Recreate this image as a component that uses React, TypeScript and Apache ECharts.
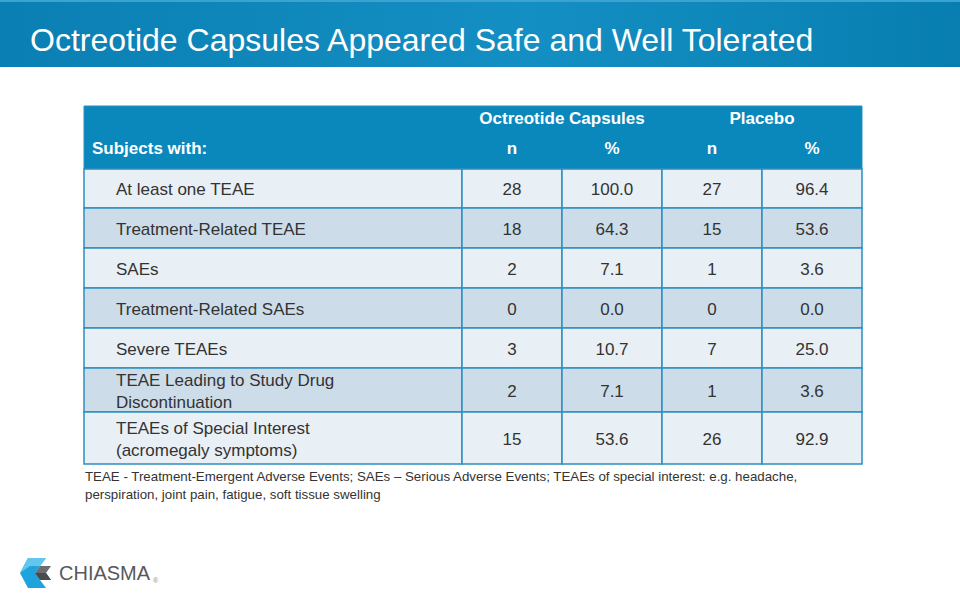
import React, { useEffect, useRef } from "react";
import * as echarts from "echarts";

const titleText = "Octreotide Capsules Appeared Safe and Well Tolerated";
const groupHeaders = ["Octreotide Capsules", "Placebo"];
const columnHeaders = ["Subjects with:", "n", "%", "n", "%"];
const categories = [
  "At least one TEAE",
  "Treatment-Related TEAE",
  "SAEs",
  "Treatment-Related SAEs",
  "Severe TEAEs",
  "TEAE Leading to Study Drug\nDiscontinuation",
  "TEAEs of Special Interest\n(acromegaly symptoms)",
];
const octreotideN = [28, 18, 2, 0, 3, 2, 15];
const octreotidePct = [100.0, 64.3, 7.1, 0.0, 10.7, 7.1, 53.6];
const placeboN = [27, 15, 1, 0, 7, 1, 26];
const placeboPct = [96.4, 53.6, 3.6, 0.0, 25.0, 3.6, 92.9];
const footnote =
  "TEAE - Treatment-Emergent Adverse Events; SAEs \u2013 Serious Adverse Events; TEAEs of special interest: e.g. headache,\nperspiration, joint pain, fatigue, soft tissue swelling";

// layout (table units = px inside grid)
const COL_EDGES = [0, 378, 478, 578, 678, 778];
const HEADER_H = 63;
const ROW_HEIGHTS = [39, 40, 40, 40, 40, 44, 52];
const ROW_EDGES = ROW_HEIGHTS.reduce(
  (acc, h) => {
    acc.push(acc[acc.length - 1] + h);
    return acc;
  },
  [HEADER_H]
);
const TABLE_H = ROW_EDGES[ROW_EDGES.length - 1];

const FONT = "'Liberation Sans', Arial, sans-serif";
const HEAD_BG = "#0a88bc";
const BORDER = "#2c8fc0";
const ROW_LIGHT = "#e8eff5";
const ROW_DARK = "#ccdce8";
const TEXT = "#333333";

export default function App() {
  const ref = useRef<HTMLDivElement>(null);
  useEffect(() => {
    if (!ref.current) return;
    const chart = echarts.init(ref.current, undefined, { renderer: "svg" });

    const renderHeader = (params: any, api: any) => {
      const [x0, y0] = api.coord([COL_EDGES[0], 0]);
      const [x1, y1] = api.coord([COL_EDGES[5], HEADER_H]);
      const children: any[] = [
        {
          type: "rect",
          shape: { x: x0, y: y0, width: x1 - x0, height: y1 - y0 },
          style: { fill: HEAD_BG, stroke: BORDER, lineWidth: 1 },
        },
      ];
      const yTop = api.coord([0, 12])[1];
      const yBot = api.coord([0, 42])[1];
      groupHeaders.forEach((g, gi) => {
        const cx = api.coord([COL_EDGES[1 + gi * 2 + 1], 0])[0];
        children.push({
          type: "text",
          style: {
            text: g,
            x: cx,
            y: yTop,
            align: "center",
            verticalAlign: "middle",
            fill: "#ffffff",
            fontFamily: FONT,
            fontSize: 17,
            fontWeight: "bold",
          },
        });
      });
      columnHeaders.forEach((h, ci) => {
        const xa = api.coord([COL_EDGES[ci], 0])[0];
        const xb = api.coord([COL_EDGES[ci + 1], 0])[0];
        children.push({
          type: "text",
          style: {
            text: h,
            x: ci === 0 ? xa + 8 : (xa + xb) / 2,
            y: yBot,
            align: ci === 0 ? "left" : "center",
            verticalAlign: "middle",
            fill: "#ffffff",
            fontFamily: FONT,
            fontSize: 17,
            fontWeight: "bold",
          },
        });
      });
      return { type: "group", children };
    };

    const renderRow = (params: any, api: any) => {
      const i = api.value(0);
      const yA = api.coord([0, ROW_EDGES[i]])[1];
      const yB = api.coord([0, ROW_EDGES[i + 1]])[1];
      const cy = (yA + yB) / 2;
      const fill = i % 2 === 0 ? ROW_LIGHT : ROW_DARK;
      const values = [
        categories[i],
        String(octreotideN[i]),
        octreotidePct[i].toFixed(1),
        String(placeboN[i]),
        placeboPct[i].toFixed(1),
      ];
      const children: any[] = [];
      values.forEach((v, ci) => {
        const xa = api.coord([COL_EDGES[ci], 0])[0];
        const xb = api.coord([COL_EDGES[ci + 1], 0])[0];
        children.push({
          type: "rect",
          shape: { x: xa, y: yA, width: xb - xa, height: yB - yA },
          style: { fill, stroke: BORDER, lineWidth: 1.5 },
        });
        children.push({
          type: "text",
          style: {
            text: v,
            x: ci === 0 ? xa + 32 : (xa + xb) / 2,
            y: cy + 1,
            align: ci === 0 ? "left" : "center",
            verticalAlign: "middle",
            fill: TEXT,
            fontFamily: FONT,
            fontSize: 17,
            lineHeight: 22,
          },
        });
      });
      return { type: "group", children };
    };

    chart.setOption({
      animation: false,
      backgroundColor: "#ffffff",
      grid: { left: 84, top: 106, width: 778, height: TABLE_H },
      xAxis: { type: "value", min: 0, max: COL_EDGES[5], show: false },
      yAxis: { type: "value", min: 0, max: TABLE_H, inverse: true, show: false },
      series: [
        {
          type: "custom",
          renderItem: renderHeader,
          data: [[0, 0]],
          clip: false,
          silent: true,
        },
        {
          type: "custom",
          renderItem: renderRow,
          data: categories.map((_, i) => [i, i]),
          clip: false,
          silent: true,
        },
      ],
      graphic: [
        {
          type: "rect",
          shape: { x: 0, y: 0, width: 960, height: 67 },
          style: {
            fill: new echarts.graphic.LinearGradient(0, 0, 1, 0, [
              { offset: 0, color: "#0a7fb3" },
              { offset: 0.55, color: "#148fc3" },
              { offset: 1, color: "#087eb0" },
            ]),
          },
        },
        {
          type: "rect",
          shape: { x: 0, y: 0, width: 960, height: 2 },
          style: { fill: "#3aa3d1" },
        },
        {
          type: "text",
          x: 30,
          y: 40,
          style: {
            text: titleText,
            fill: "#ffffff",
            fontFamily: FONT,
            fontSize: 32,
            verticalAlign: "middle",
          },
        },
        {
          type: "text",
          x: 85,
          y: 467,
          style: {
            text: footnote,
            fill: TEXT,
            fontFamily: FONT,
            fontSize: 13.3,
            lineHeight: 18,
            verticalAlign: "top",
          },
        },
        // logo icon
        {
          type: "polygon",
          shape: {
            points: [
              [20, 573],
              [28, 558],
              [46, 558],
              [40, 566],
              [35, 573],
              [40, 580],
              [46, 588],
              [28, 588],
            ],
          },
          style: { fill: "#1ea3dd" },
        },
        {
          type: "polygon",
          shape: {
            points: [
              [20, 573],
              [28, 558],
              [46, 558],
              [40, 566],
              [30, 566],
            ],
          },
          style: { fill: "#62c6ef" },
        },
        {
          type: "polygon",
          shape: {
            points: [
              [40, 566],
              [51, 566],
              [46, 573],
              [51, 580],
              [40, 580],
              [35, 573],
            ],
          },
          style: { fill: "#6d6e71" },
        },
        {
          type: "polygon",
          shape: {
            points: [
              [35, 573],
              [46, 573],
              [51, 580],
              [40, 580],
            ],
          },
          style: { fill: "#4a4b4d" },
        },
        {
          type: "text",
          x: 59,
          y: 573,
          style: {
            text: "CHIASMA",
            fill: "#58595b",
            fontFamily: FONT,
            fontSize: 20,
            verticalAlign: "middle",
          },
        },
        {
          type: "text",
          x: 153,
          y: 580,
          style: {
            text: "\u00ae",
            fill: "#8a8b8d",
            fontFamily: FONT,
            fontSize: 7,
            verticalAlign: "middle",
          },
        },
      ],
    });
    return () => chart.dispose();
  }, []);
  return (
    <div
      ref={ref}
      style={{ position: "fixed", left: 0, top: 0, width: 960, height: 600 }}
    />
  );
}
